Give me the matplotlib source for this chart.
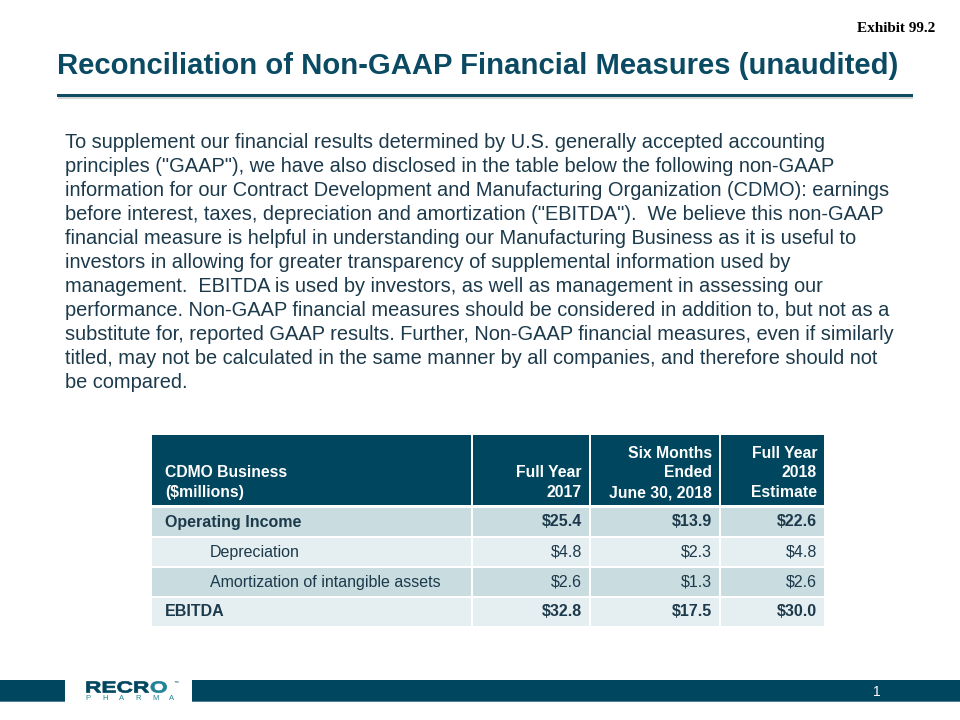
import matplotlib
matplotlib.use("Agg")
import matplotlib.pyplot as plt
from matplotlib.patches import Rectangle, PathPatch
from matplotlib.textpath import TextPath
from matplotlib.font_manager import FontProperties
from matplotlib.transforms import Affine2D

# ---------------- data ----------------
title = "Reconciliation of Non-GAAP Financial Measures (unaudited)"
exhibit = "Exhibit 99.2"
paragraph_lines = [
    "To supplement our financial results determined by U.S. generally accepted accounting",
    "principles (\"GAAP\"), we have also disclosed in the table below the following non-GAAP",
    "information for our Contract Development and Manufacturing Organization (CDMO): earnings",
    "before interest, taxes, depreciation and amortization (\"EBITDA\").  We believe this non-GAAP",
    "financial measure is helpful in understanding our Manufacturing Business as it is useful to",
    "investors in allowing for greater transparency of supplemental information used by",
    "management.  EBITDA is used by investors, as well as management in assessing our",
    "performance. Non-GAAP financial measures should be considered in addition to, but not as a",
    "substitute for, reported GAAP results. Further, Non-GAAP financial measures, even if similarly",
    "titled, may not be calculated in the same manner by all companies, and therefore should not",
    "be compared.",
]
header_labels = ["CDMO Business\n($millions)", "Full Year\n2017",
                 "Six Months\nEnded\nJune 30, 2018", "Full Year\n2018\nEstimate"]
row_labels = ["Operating Income", "Depreciation",
              "Amortization of intangible assets", "EBITDA"]
row_bold = [True, False, False, True]
row_indent = [False, True, True, False]
full_year_2017 = [25.4, 4.8, 2.6, 32.8]
six_months_2018 = [13.9, 2.3, 1.3, 17.5]
full_year_2018_est = [22.6, 4.8, 2.6, 30.0]
page_number = "1"
logo_main = "RECR"
logo_accent = "O"
logo_bottom = ["P", "H", "A", "R", "M", "A"]

# ---------------- style ----------------
DARK = "#00465F"
TEXT = "#1C3A4B"
ROW_A = "#C9DCE0"
ROW_B = "#E5EEF0"
TEAL = "#1F8398"
SANS = ["Liberation Sans", "DejaVu Sans"]

fig = plt.figure(figsize=(9.6, 7.2), dpi=100)
ax = fig.add_axes([0, 0, 1, 1])
ax.set_xlim(0, 960)
ax.set_ylim(720, 0)
ax.axis("off")

# exhibit label
ax.text(935, 29, exhibit, ha="right", va="center", fontsize=11,
        fontweight="bold", family=["Liberation Serif", "DejaVu Serif"], color="black")

# title
ax.text(57, 66, title, ha="left", va="center", fontsize=21.1, fontweight="bold",
        family=SANS, color="#0A4A63")
# underline with shadow
ax.add_patch(Rectangle((58, 96), 855, 3, color="#D4D4D4", lw=0))
ax.add_patch(Rectangle((57, 93.5), 856, 3, color="#0E4C63", lw=0))

# paragraph
for i, line in enumerate(paragraph_lines):
    ax.text(65, 143 + i * 23.9, line, ha="left", va="center", fontsize=14.45,
            family=SANS, color=TEXT)

# table
col_edges = [152, 472, 590, 720, 824]
gap = 2
header_top, header_bot = 435, 505
row_top0, row_h = 507, 30
pad = 7
lpad = 13

for c in range(4):
    x0 = col_edges[c] + (0 if c == 0 else gap / 2)
    x1 = col_edges[c + 1] - (0 if c == 3 else gap / 2)
    ax.add_patch(Rectangle((x0, header_top), x1 - x0, header_bot - header_top,
                           color=DARK, lw=0))
    if c == 0:
        ax.text(x0 + lpad, header_bot - 5, header_labels[c], ha="left", va="bottom",
                fontsize=11.3, fontweight="bold", family=SANS, color="white",
                linespacing=1.38)
    else:
        ax.text(x1 - pad, header_bot - 5, header_labels[c], ha="right", va="bottom",
                fontsize=11.3, fontweight="bold", family=SANS, color="white",
                linespacing=1.38, multialignment="right")

cols = [full_year_2017, six_months_2018, full_year_2018_est]
for r in range(len(row_labels)):
    y0 = row_top0 + r * row_h
    fill = ROW_A if r % 2 == 0 else ROW_B
    for c in range(4):
        x0 = col_edges[c] + (0 if c == 0 else gap / 2)
        x1 = col_edges[c + 1] - (0 if c == 3 else gap / 2)
        ax.add_patch(Rectangle((x0, y0 + gap / 2), x1 - x0, row_h - gap,
                               color=fill, lw=0))
        weight = "bold" if row_bold[r] else "normal"
        yc = y0 + row_h / 2
        if c == 0:
            xt = x0 + (58 if row_indent[r] else lpad)
            ax.text(xt, yc, row_labels[r], ha="left", va="center", fontsize=11.5,
                    fontweight=weight, family=SANS, color=TEXT)
        else:
            ax.text(x1 - pad, yc, f"${cols[c - 1][r]:.1f}", ha="right", va="center",
                    fontsize=11.5, fontweight=weight, family=SANS, color=TEXT)

# bottom bar
ax.add_patch(Rectangle((0, 680), 65, 22, color=DARK, lw=0))
ax.add_patch(Rectangle((192, 680), 768, 22, color=DARK, lw=0))
ax.add_patch(Rectangle((0, 701), 65, 1.2, color="#4C8196", lw=0))
ax.add_patch(Rectangle((192, 701), 768, 1.2, color="#4C8196", lw=0))
ax.text(877, 692, page_number, ha="center", va="center", fontsize=10,
        family=SANS, color="white")

# logo (stretched letters)
fp = FontProperties(family="Liberation Sans", weight="bold")
sx, base_x, base_y, lsize = 1.42, 85, 692.5, 16
p_main = TextPath((0, 0), logo_main, size=lsize, prop=fp)
tr = Affine2D().scale(sx, -1).translate(base_x, base_y)
ax.add_patch(PathPatch(tr.transform_path(p_main), facecolor=DARK, edgecolor=DARK, lw=0.5))
w_main = p_main.get_extents().x1
p_acc = TextPath((0, 0), logo_accent, size=lsize, prop=fp)
tr2 = Affine2D().scale(sx, -1).translate(base_x + w_main * sx + 1.0, base_y)
ax.add_patch(PathPatch(tr2.transform_path(p_acc), facecolor=TEAL, edgecolor=TEAL, lw=0.5))
ax.text(174, 682, "™", ha="left", va="center", fontsize=3.5, family=SANS, color=DARK)
for i, ch in enumerate(logo_bottom):
    ax.text(88 + i * 16.8, 698.5, ch, ha="center", va="center", fontsize=5.5,
            family=SANS, color=TEAL)

fig.savefig("out.png", dpi=100)
